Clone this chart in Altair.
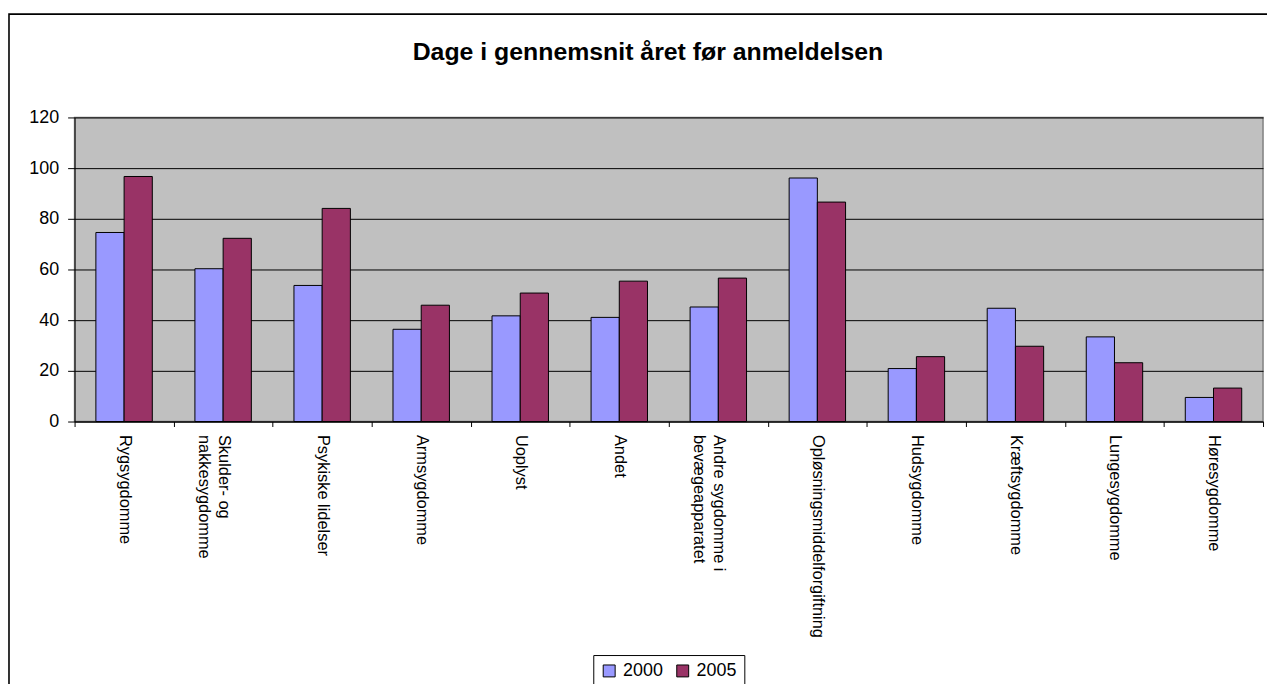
import altair as alt
import pandas as pd

categories = ["Rygsygdomme", "Skulder- og|nakkesygdomme", "Psykiske lidelser",
              "Armsygdomme", "Uoplyst", "Andet", "Andre sygdomme i|bevægeapparatet",
              "Opløsningsmiddelforgiftning", "Hudsygdomme", "Kræftsygdomme",
              "Lungesygdomme", "Høresygdomme"]
years = ["2000", "2005"]
values_2000 = [74.6, 60.3, 53.7, 36.4, 41.7, 41.1, 45.2, 96.1, 20.9, 44.7, 33.4, 9.5]
values_2005 = [96.7, 72.3, 84.1, 45.9, 50.7, 55.4, 56.6, 86.6, 25.6, 29.7, 23.2, 13.2]
y_ticks = [0, 20, 40, 60, 80, 100, 120]
title_text = "Dage i gennemsnit året før anmeldelsen"

rows = []
for c, a, b in zip(categories, values_2000, values_2005):
    rows.append({"kategori": c, "år": years[0], "dage": a})
    rows.append({"kategori": c, "år": years[1], "dage": b})
df = pd.DataFrame(rows)

W, H = 1196, 306
FONT = "Liberation Sans"

frame = alt.Chart(pd.DataFrame({"a": [0]})).mark_rect(
    fill="transparent", stroke="black", strokeWidth=1.6
).encode(
    x=alt.value(-66), x2=alt.value(W + 60),
    y=alt.value(-104), y2=alt.value(H + 400)
)

title = alt.Chart(pd.DataFrame({"t": [title_text]})).mark_text(
    font=FONT, fontSize=25, fontWeight="bold", color="black",
    align="center", baseline="alphabetic"
).encode(
    text="t:N", x=alt.value(577), y=alt.value(-58)
)

bars = alt.Chart(df).mark_bar(stroke="black", strokeWidth=1).encode(
    x=alt.X("kategori:N", sort=categories,
            scale=alt.Scale(paddingInner=0, paddingOuter=0),
            axis=alt.Axis(title=None, labelAngle=90, labelAlign="left",
                          labelBaseline="middle", tickBand="extent",
                          tickSize=5, labelPadding=8, labelFontSize=16.5,
                          labelFont=FONT, labelColor="black", labelLimit=0,
                          labelLineHeight=20, domainColor="black",
                          tickColor="black", grid=False,
                          labelExpr="split(datum.label, '|')")),
    xOffset=alt.XOffset("år:N", sort=years,
                        scale=alt.Scale(paddingInner=0, paddingOuter=0.755)),
    y=alt.Y("dage:Q", scale=alt.Scale(domain=[0, 120], nice=False),
            axis=alt.Axis(title=None, values=y_ticks, tickSize=7, labelPadding=9,
                          labelFontSize=18, labelFont=FONT, labelColor="black",
                          domainColor="black", tickColor="black",
                          grid=True, gridColor="black", gridOpacity=1,
                          gridWidth=1)),
    color=alt.Color("år:N", sort=years,
                    scale=alt.Scale(domain=years, range=["#9999FF", "#993366"]),
                    legend=alt.Legend(title=None, orient="none", legendX=522,
                                      legendY=541, direction="horizontal",
                                      columns=2, symbolType="square",
                                      symbolSize=144, symbolStrokeColor="black",
                                      symbolStrokeWidth=1, labelFontSize=18,
                                      labelFont=FONT, labelColor="black",
                                      labelOffset=5, columnPadding=10,
                                      padding=7, strokeColor="black",
                                      fillColor="white")),
)

chart = alt.layer(frame, title, bars).properties(
    width=W, height=H,
    background="white",
    autosize=alt.AutoSizeParams(type="none"),
    padding={"left": 67, "top": 108, "right": 4, "bottom": 262},
).configure_view(
    fill="#C0C0C0", stroke="#808080", strokeWidth=1.5
)

chart.save("out.html", embed_options={"renderer": "svg", "actions": False})
